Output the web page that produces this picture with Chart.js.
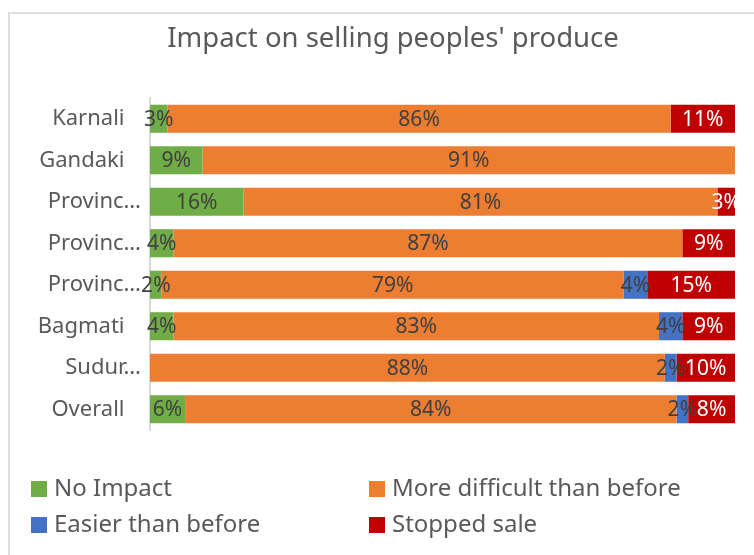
<!DOCTYPE html>
<html>
<head>
<meta charset="utf-8">
<script src="https://cdn.jsdelivr.net/npm/chart.js@4/dist/chart.umd.min.js"></script>
<style>
  body { margin: 0; background: #fff; }
  #marco { position: absolute; left: 8px; top: 12px; width: 780px; height: 560px;
           border-top: 2px solid #dedede; border-left: 2px solid #dedede; }
  #grafica { position: absolute; left: 0; top: 0; }
</style>
</head>
<body>
<div id="marco"></div>
<canvas id="grafica" width="754" height="555"></canvas>
<script>
let titulo = "Impact on selling peoples' produce";
let provincias = ['Karnali', 'Gandaki', 'Provinc…', 'Provinc…', 'Provinc…', 'Bagmati', 'Sudur…', 'Overall'];
let sinImpacto = [3, 9, 16, 4, 2, 4, 0, 6];
let masDificil = [86, 91, 81, 87, 79, 83, 88, 84];
let masFacil = [0, 0, 0, 0, 4, 4, 2, 2];
let ventaDetenida = [11, 0, 3, 9, 15, 9, 10, 8];

let fuente = 'Noto Sans';
let gris = '#595959';

// etiquetas de porcentaje dentro de cada segmento
const etiquetasValor = {
  id: 'etiquetasValor',
  afterDatasetsDraw(chart) {
    const ctx = chart.ctx;
    ctx.save();
    ctx.font = '21px "' + fuente + '"';
    ctx.textAlign = 'center';
    ctx.textBaseline = 'middle';
    chart.data.datasets.forEach((ds, i) => {
      chart.getDatasetMeta(i).data.forEach((barra, j) => {
        let v = ds.data[j];
        if (!v) return;
        let p = barra.getCenterPoint();
        ctx.fillStyle = ds.colorEtiqueta;
        ctx.fillText(v + '%', p.x, p.y + 1);
      });
    });
    ctx.restore();
  }
};

// titulo y leyenda en dos columnas
const tituloLeyenda = {
  id: 'tituloLeyenda',
  afterDraw(chart) {
    const ctx = chart.ctx;
    ctx.save();
    ctx.fillStyle = gris;
    ctx.textBaseline = 'middle';
    ctx.textAlign = 'center';
    ctx.font = '27.5px "' + fuente + '"';
    ctx.fillText(titulo, 393, 39);

    ctx.textAlign = 'left';
    ctx.font = '24px "' + fuente + '"';
    let columnas = [31, 369];
    let filas = [489, 525];
    chart.data.datasets.forEach((ds, i) => {
      let x = columnas[i % 2];
      let y = filas[Math.floor(i / 2)];
      ctx.fillStyle = ds.backgroundColor;
      ctx.fillRect(x, y - 8, 16, 16);
      ctx.fillStyle = gris;
      ctx.fillText(ds.label, x + 23, y);
    });
    ctx.restore();
  }
};

let ctx = document.getElementById('grafica').getContext('2d');
new Chart(ctx, {
  type: 'bar',
  data: {
    labels: provincias,
    datasets: [
      { label: 'No Impact', data: sinImpacto, backgroundColor: '#70AD47', colorEtiqueta: '#404040' },
      { label: 'More difficult than before', data: masDificil, backgroundColor: '#ED7D31', colorEtiqueta: '#404040' },
      { label: 'Easier than before', data: masFacil, backgroundColor: '#4472C4', colorEtiqueta: '#404040' },
      { label: 'Stopped sale', data: ventaDetenida, backgroundColor: '#C00000', colorEtiqueta: '#ffffff' }
    ]
  },
  options: {
    indexAxis: 'y',
    responsive: false,
    animation: false,
    barPercentage: 0.676,
    categoryPercentage: 1,
    layout: { padding: { top: 98, bottom: 125, left: 0, right: 19 } },
    plugins: {
      legend: { display: false },
      title: { display: false },
      tooltip: { enabled: false }
    },
    scales: {
      x: { stacked: true, min: 0, max: 100, display: false },
      y: {
        stacked: true,
        grid: { display: false, drawTicks: false },
        border: { display: true, color: '#d9d9d9', width: 2 },
        afterFit(scale) { scale.width = 150; },
        ticks: {
          color: gris,
          padding: 9,
          font: { family: fuente, size: 22 },
          callback: function(value) {
            let l = this.getLabelForValue(value);
            return l.endsWith('…') ? l : l + '\u2002\u2005';
          }
        }
      }
    }
  },
  plugins: [etiquetasValor, tituloLeyenda]
});
</script>
</body>
</html>
